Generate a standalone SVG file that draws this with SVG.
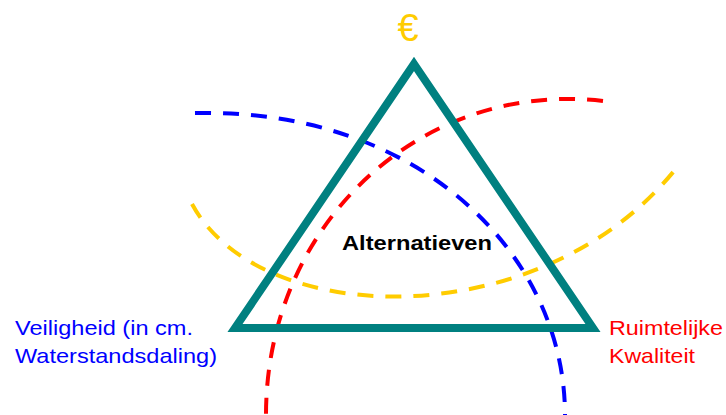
<svg xmlns="http://www.w3.org/2000/svg" width="726" height="415" viewBox="0 0 726 415">
<style>
.arc{fill:none;stroke-width:4;stroke-dasharray:16 12}
.lbl{font-family:"Liberation Sans",Arial,sans-serif;font-size:21px}
</style>
<rect width="726" height="415" fill="#ffffff"/>
<g id="curves">
<path class="arc" stroke="#0000FF" d="M195 113 C420 108 565 255 565 415"/>
<path class="arc" stroke="#FF0000" d="M603 101 C420 80 266 225 266 415"/>
<path class="arc" stroke="#FFCC00" d="M192 204 C260 330 540 335 674 171"/>
</g>
<g id="triangle">
<polygon points="414,64 593,328 235,328" fill="none" stroke="#008080" stroke-width="8" stroke-linejoin="miter" stroke-miterlimit="10"/>
</g>
<g id="euro">
<text x="408" y="41" text-anchor="middle" font-family="Liberation Sans, Arial, sans-serif" font-size="38" fill="#FFCC00">€</text>
</g>
<g id="center">
<text x="342" y="249.5" font-family="Liberation Sans, Arial, sans-serif" font-size="21" font-weight="bold" fill="#000000" textLength="150" lengthAdjust="spacingAndGlyphs">Alternatieven</text>
</g>
<g id="veiligheid" class="lbl" fill="#0000FF">
<text x="15" y="335" textLength="178" lengthAdjust="spacingAndGlyphs">Veiligheid (in cm.</text>
<text x="15" y="363" textLength="202" lengthAdjust="spacingAndGlyphs">Waterstandsdaling)</text>
</g>
<g id="ruimtelijke" class="lbl" fill="#FF0000">
<text x="609" y="335" textLength="114" lengthAdjust="spacingAndGlyphs">Ruimtelijke</text>
<text x="609" y="363" textLength="86" lengthAdjust="spacingAndGlyphs">Kwaliteit</text>
</g>
</svg>
